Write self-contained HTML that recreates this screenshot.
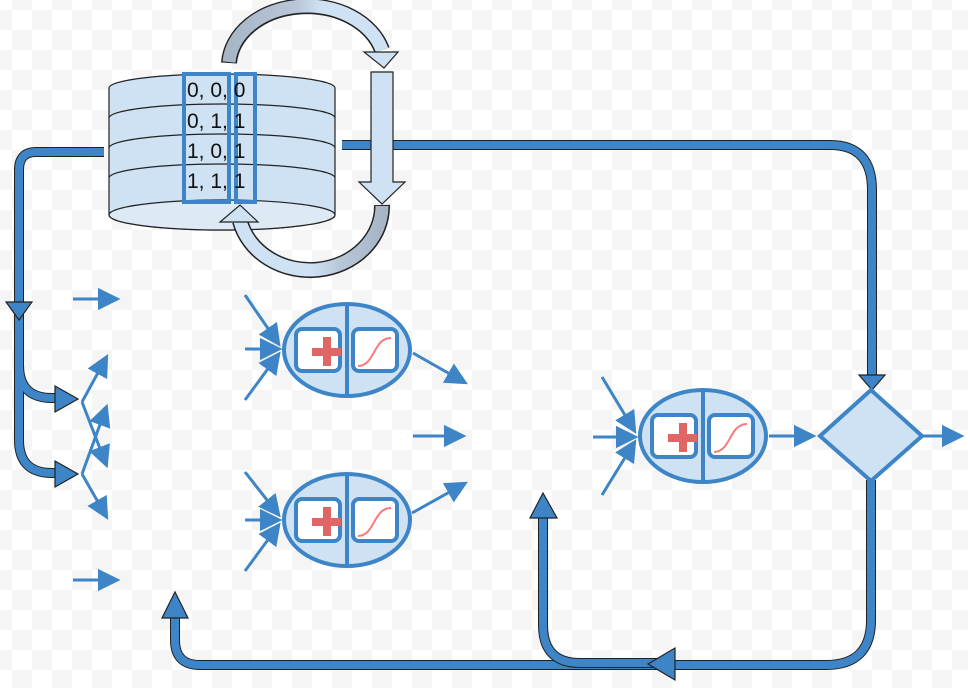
<!DOCTYPE html>
<html><head><meta charset="utf-8"><style>
html,body{margin:0;padding:0}
body{width:968px;height:688px;overflow:hidden;background-color:#fff;
background-image:linear-gradient(45deg,#f5f5f5 25%,transparent 25%,transparent 75%,#f5f5f5 75%),linear-gradient(45deg,#f5f5f5 25%,transparent 25%,transparent 75%,#f5f5f5 75%);
background-size:40px 40px;background-position:12px 10px,32px 30px}
svg{position:absolute;left:0;top:0}
text{font-family:"Liberation Sans",sans-serif}
</style></head><body>
<svg width="968" height="688" viewBox="0 0 968 688">
<defs>
<linearGradient id="g1" x1="0" x2="1" y1="0" y2="0"><stop offset="0" stop-color="#a7b6c6"/><stop offset="0.45" stop-color="#b8c8d8"/><stop offset="0.6" stop-color="#cfe2f3"/><stop offset="1" stop-color="#cfe2f3"/></linearGradient>
<linearGradient id="g2" x1="0" x2="1" y1="0" y2="0"><stop offset="0" stop-color="#cfe2f3"/><stop offset="0.5" stop-color="#cfe2f3"/><stop offset="0.7" stop-color="#b8c8d8"/><stop offset="1" stop-color="#a7b6c6"/></linearGradient>
<marker id="ah" markerWidth="8" markerHeight="8" refX="6" refY="4" orient="auto" markerUnits="strokeWidth"><path d="M0,0.3 L7.5,4 L0,7.7 Z" fill="#3d85c6"/></marker>
<g id="neuron">
<ellipse cx="0" cy="0" rx="63" ry="46" fill="#cfe2f3" stroke="#3d85c6" stroke-width="4"/>
<line x1="0" y1="-46" x2="0" y2="46" stroke="#3d85c6" stroke-width="4"/>
<rect x="-51" y="-21" width="44" height="42" rx="6" fill="#fff" stroke="#3d85c6" stroke-width="4"/>
<rect x="6" y="-21" width="44" height="42" rx="6" fill="#fff" stroke="#3d85c6" stroke-width="4"/>
<rect x="-35" y="-2" width="29" height="8" fill="#e06666"/>
<rect x="-24" y="-13" width="8" height="29" fill="#e06666"/>
<path d="M11,16 C28,16 26,-12 44,-12" fill="none" stroke="#ff7777" stroke-width="2"/>
</g>
</defs>

<g fill="none" stroke-linejoin="round">
<path d="M342,145 H830 Q872,145 872,190 V378" stroke="#222" stroke-width="10"/>
<path d="M342,145 H830 Q872,145 872,190 V378" stroke="#3d85c6" stroke-width="8"/>
<path d="M104,152 H36 Q19,152 19,170 V440 Q19,473 52,473 H60 M19,365 Q19,398 52,398 H60" stroke="#222" stroke-width="10"/>
<path d="M104,152 H36 Q19,152 19,170 V440 Q19,473 52,473 H60 M19,365 Q19,398 52,398 H60" stroke="#3d85c6" stroke-width="8"/>
<path d="M871,480 V620 Q871,665 826,665 H200 Q175,665 175,640 V616" stroke="#222" stroke-width="10"/>
<path d="M871,480 V620 Q871,665 826,665 H200 Q175,665 175,640 V616" stroke="#3d85c6" stroke-width="8"/>
<path d="M543,516 V625 Q543,663 580,663 H660" stroke="#222" stroke-width="10"/>
<path d="M543,516 V625 Q543,663 580,663 H660" stroke="#3d85c6" stroke-width="8"/>
</g>
<g fill="#3d85c6" stroke="#222" stroke-width="1.2">
<path d="M859,375 L885,375 L872,390 Z"/>
<path d="M6,302 L32,302 L19,320 Z"/>
<path d="M55,386 L78,399 L55,412 Z"/>
<path d="M55,461 L78,474 L55,487 Z"/>
<path d="M162,618 L188,618 L175,592 Z"/>
<path d="M530,518 L557,518 L543,493 Z"/>
<path d="M675,648 L675,680 L648,664 Z"/>
</g>

<g stroke="#222" stroke-width="1.2">
<path d="M109,88 V215 A113,15 0 0 0 335,215 V88 A113,14 0 0 0 109,88 Z" fill="#cfe2f3"/>
<ellipse cx="222" cy="215" rx="113" ry="15" fill="#dde9f5"/>
<path d="M109,118 A113,14 0 0 1 335,118" fill="none"/>
<path d="M109,148 A113,14 0 0 1 335,148" fill="none"/>
<path d="M109,178 A113,14 0 0 1 335,178" fill="none"/>
</g>
<rect x="184" y="74" width="45" height="128" fill="none" stroke="#3d85c6" stroke-width="4"/>
<rect x="236" y="74" width="19" height="128" fill="none" stroke="#3d85c6" stroke-width="4"/>
<g font-size="21" fill="#111">
<text x="187" y="97">0, 0, 0</text>
<text x="187" y="128">0, 1, 1</text>
<text x="187" y="158">1, 0, 1</text>
<text x="187" y="188">1, 1, 1</text>
</g>

<path d="M229,63 A78,60 0 0 1 382,50" fill="none" stroke="#222" stroke-width="16"/>
<path d="M229,62 A78,60 0 0 1 382,50" fill="none" stroke="url(#g1)" stroke-width="13"/>
<path d="M364,52 L398,52 L384,68 Z" fill="#cfe2f3" stroke="#222" stroke-width="1.2"/>
<path d="M371,72 H393 V182 H405 L382,204 L359,182 H371 Z" fill="#cfe2f3" stroke="#222" stroke-width="1.2"/>
<path d="M382,205 A72,64 0 0 1 240,221" fill="none" stroke="#222" stroke-width="16"/>
<path d="M382,206 A72,64 0 0 1 240,221" fill="none" stroke="url(#g2)" stroke-width="13"/>
<path d="M220,222 L258,222 L240,205 Z" fill="#cfe2f3" stroke="#222" stroke-width="1.2"/>

<g stroke="#3d85c6" stroke-width="3" fill="none" marker-end="url(#ah)">
<line x1="73" y1="299" x2="116" y2="299"/>
<line x1="73" y1="580" x2="116" y2="580"/>
<line x1="82" y1="402" x2="106" y2="358"/>
<line x1="82" y1="402" x2="106" y2="464"/>
<line x1="82" y1="474" x2="106" y2="408"/>
<line x1="82" y1="474" x2="106" y2="516"/>
<line x1="245" y1="295" x2="278" y2="343"/>
<line x1="245" y1="349" x2="278" y2="349"/>
<line x1="245" y1="400" x2="278" y2="355"/>
<line x1="413" y1="353" x2="464" y2="382"/>
<line x1="245" y1="472" x2="278" y2="514"/>
<line x1="245" y1="520" x2="278" y2="520"/>
<line x1="245" y1="571" x2="278" y2="526"/>
<line x1="412" y1="513" x2="464" y2="484"/>
<line x1="413" y1="436" x2="462" y2="436"/>
<line x1="602" y1="377" x2="634" y2="430"/>
<line x1="593" y1="437" x2="634" y2="437"/>
<line x1="602" y1="495" x2="634" y2="443"/>
<line x1="769" y1="436" x2="812" y2="436"/>
<line x1="923" y1="436" x2="960" y2="436"/>
</g>

<use href="#neuron" x="347" y="350"/>
<use href="#neuron" x="347" y="520"/>
<use href="#neuron" x="703" y="436"/>

<path d="M871,390 L922,436 L871,481 L820,436 Z" fill="#cfe2f3" stroke="#3d85c6" stroke-width="4"/>
</svg>
</body></html>
